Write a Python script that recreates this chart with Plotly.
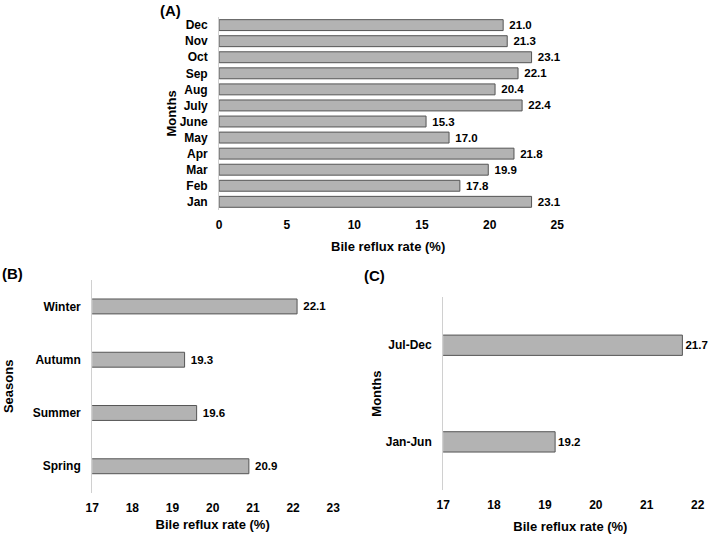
import plotly.graph_objects as go

months = ["Jan", "Feb", "Mar", "Apr", "May", "June", "July", "Aug", "Sep", "Oct", "Nov", "Dec"]
month_rates = [23.1, 17.8, 19.9, 21.8, 17.0, 15.3, 22.4, 20.4, 22.1, 23.1, 21.3, 21.0]

seasons = ["Spring", "Summer", "Autumn", "Winter"]
season_rates = [20.9, 19.6, 19.3, 22.1]

halves = ["Jan-Jun", "Jul-Dec"]
half_rates = [19.2, 21.7]

FONT = "Liberation Sans, Arial, sans-serif"
BAR = "#b3b3b3"
EDGE = "#555555"

def bar(x, y, xa, ya, width, pad):
    return go.Bar(
        x=x, y=y, orientation="h", xaxis=xa, yaxis=ya, width=width,
        marker=dict(color=BAR, line=dict(color=EDGE, width=1)),
        text=[pad + f"{v:.1f}" for v in x], textposition="outside",
        constraintext="none",
        textfont=dict(family=FONT, size=11.5, color="black", weight="bold"),
        cliponaxis=False, showlegend=False, hoverinfo="skip",
    )

fig = go.Figure()
fig.add_trace(bar(month_rates, months, "x", "y", 0.68, "\u00a0"))
fig.add_trace(bar(season_rates, seasons, "x2", "y2", 0.28, "\u00a0"))
fig.add_trace(bar(half_rates, halves, "x3", "y3", 0.21, ""))

tickf = dict(family=FONT, size=12, color="black", weight="bold")
titlef = dict(family=FONT, size=13, color="black", weight="bold")

def xax(domain, rng, dtick, anchor, standoff):
    return dict(domain=domain, range=rng, dtick=dtick, tick0=rng[0], anchor=anchor,
                automargin=False,
                showgrid=False, zeroline=False, showline=False, ticks="",
                tickfont=tickf, ticklabelstandoff=6,
                title=dict(text="Bile reflux rate (%)", font=titlef, standoff=standoff))

def yax(domain, anchor, title, standoff):
    return dict(domain=domain, anchor=anchor, automargin=False,
                showgrid=False, zeroline=False,
                showline=True, linecolor="#d0d0d0", linewidth=1, ticks="",
                tickfont=tickf, ticklabelstandoff=8,
                title=dict(text=title, font=titlef, standoff=standoff))

fig.update_layout(
    width=709, height=534,
    margin=dict(l=0, r=0, t=0, b=0),
    paper_bgcolor="white", plot_bgcolor="white",
    uniformtext=dict(mode=False),
    xaxis=xax([0.309, 0.786], [0, 25], 5, "y", 11),
    yaxis=yax([0.607, 0.968], "x", "Months", 0),
    xaxis2=xax([0.130, 0.470], [17, 23], 1, "y2", 6),
    yaxis2=yax([0.077, 0.476], "x2", "Seasons", 16),
    xaxis3=xax([0.625, 0.984], [17, 22], 1, "y3", 10),
    yaxis3=yax([0.082, 0.444], "x3", "Months", 1),
    annotations=[
        dict(text="(A)", x=170 / 709, y=1 - 10 / 534, xref="paper", yref="paper",
             xanchor="center", yanchor="middle", showarrow=False,
             font=dict(family=FONT, size=15, color="black", weight="bold")),
        dict(text="(B)", x=0, y=1 - 273 / 534, xref="paper", yref="paper",
             xanchor="left", yanchor="middle", showarrow=False,
             font=dict(family=FONT, size=15, color="black", weight="bold")),
        dict(text="(C)", x=362 / 709, y=1 - 275 / 534, xref="paper", yref="paper",
             xanchor="left", yanchor="middle", showarrow=False,
             font=dict(family=FONT, size=15, color="black", weight="bold")),
    ],
)

fig.write_html("out.html", config={"displayModeBar": False},
               post_script="document.body.style.margin='0';")
